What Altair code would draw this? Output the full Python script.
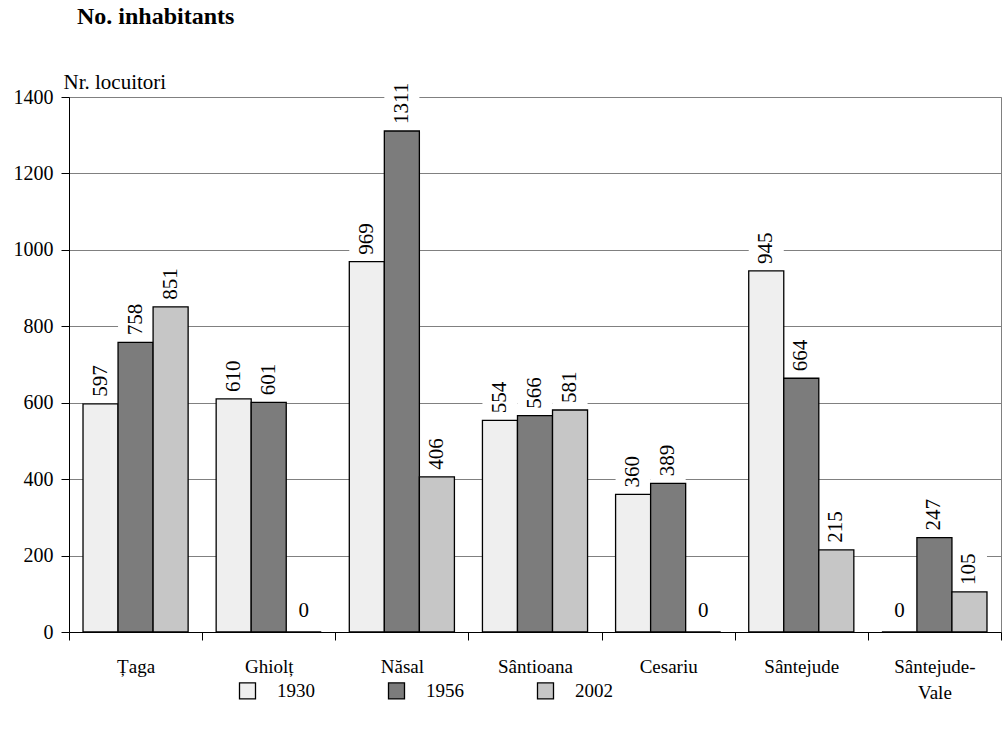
import altair as alt
import pandas as pd

# Population of the villages in three census years
villages = ["Țaga", "Ghiolț", "Năsal", "Sântioana", "Cesariu", "Sântejude", "Sântejude-Vale"]
years = ["1930", "1956", "2002"]
pop_1930 = [597, 610, 969, 554, 360, 945, 0]
pop_1956 = [758, 601, 1311, 566, 389, 664, 247]
pop_2002 = [851, 0, 406, 581, 0, 215, 105]
y_ticks = [0, 200, 400, 600, 800, 1000, 1200, 1400]

fills = ["#efefef", "#7c7c7c", "#c6c6c6"]
FONT = "'Liberation Serif', 'Times New Roman', 'DejaVu Serif', serif"

rows = []
for year, series in zip(years, [pop_1930, pop_1956, pop_2002]):
    for village, value in zip(villages, series):
        rows.append({"village": village, "year": year, "value": value})
df = pd.DataFrame(rows)

W, H = 932, 535
Y_MAX = 1400

x_enc = alt.X(
    "village:N",
    sort=villages,
    scale=alt.Scale(paddingInner=0, paddingOuter=0),
    axis=alt.Axis(
        title=None,
        labelAngle=0,
        labelFont=FONT,
        labelFontSize=19,
        labelFontWeight="normal",
        labelColor="black",
        labelPadding=17,
        labelLineHeight=26,
        labelExpr="datum.label == 'Sântejude-Vale' ? ['Sântejude-', 'Vale'] : datum.label",
        tickBand="extent",
        tickSize=8,
        tickColor="black",
        domainColor="black",
        grid=False,
    ),
)
xo_enc = alt.XOffset("year:N", sort=years, scale=alt.Scale(paddingOuter=0.4, paddingInner=0))
y_enc = alt.Y(
    "value:Q",
    scale=alt.Scale(domain=[0, Y_MAX], nice=False),
    axis=alt.Axis(
        values=y_ticks,
        format="d",
        title="Nr. locuitori",
        titleFont=FONT,
        titleAngle=0,
        titleAlign="left",
        titleBaseline="alphabetic",
        titleX=-6,
        titleY=-9,
        titleFontSize=21,
        titleFontWeight="normal",
        titleColor="black",
        labelFont=FONT,
        labelFontSize=20,
        labelColor="black",
        labelPadding=8,
        tickSize=8,
        tickColor="black",
        domainColor="black",
        gridColor="#808080",
        gridWidth=1,
    ),
)

base = alt.Chart(df).encode(x=x_enc, xOffset=xo_enc)

# white boxes behind the rotated value labels (they hide the gridlines)
boxes = (
    base.transform_filter("datum.value > 0")
    .transform_calculate(
        box_top=f"datum.value + (14 + 11 * length(toString(datum.value))) * {Y_MAX} / {H}"
    )
    .mark_bar(color="white")
    .encode(y=y_enc, y2="box_top:Q")
)

bars = base.mark_bar(stroke="black", strokeWidth=1.3).encode(
    y=y_enc,
    fill=alt.Fill(
        "year:N",
        sort=years,
        scale=alt.Scale(domain=years, range=fills),
        legend=alt.Legend(
            title=None,
            orient="none",
            legendX=169,
            legendY=584,
            direction="horizontal",
            symbolType="square",
            symbolSize=256,
            symbolStrokeColor="black",
            symbolStrokeWidth=1.3,
            symbolOpacity=1,
            labelFont=FONT,
            labelFontSize=19,
            labelColor="black",
            labelOffset=20,
            columnPadding=70,
            gridAlign="all",
        ),
    ),
)

labels = (
    base.transform_filter("datum.value > 0")
    .mark_text(angle=270, align="left", baseline="middle", dx=7, fontSize=21, font=FONT, color="black")
    .encode(y=y_enc, text="value:Q")
)

zero_labels = (
    base.transform_filter("datum.value == 0")
    .mark_text(align="center", baseline="middle", dy=-21, fontSize=21, font=FONT, color="black")
    .encode(y=y_enc, text="value:Q")
)

chart = (
    alt.layer(boxes, bars, labels, zero_labels)
    .properties(
        width=W,
        height=H,
        autosize=alt.AutoSizeParams(type="none"),
        padding={"left": 69, "top": 97, "right": 4, "bottom": 97},
        title=alt.TitleParams(
            "No. inhabitants",
            anchor="start",
            frame="group",
            dx=8,
            offset=42,
            fontSize=24,
            fontWeight="bold",
            font=FONT,
            color="black",
        ),
    )
    .configure(font=FONT, background="white")
    .configure_view(stroke="#808080", strokeWidth=1)
)

chart.save("out.html", embed_options={"renderer": "svg", "actions": False})
